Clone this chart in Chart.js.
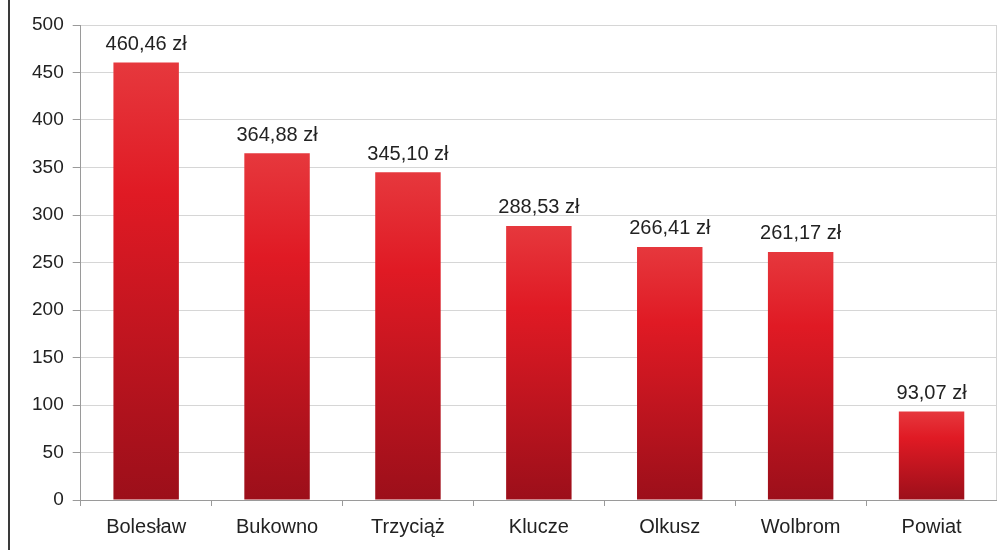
<!DOCTYPE html>
<html>
<head>
<meta charset="utf-8">
<script src="https://cdn.jsdelivr.net/npm/chart.js@4"></script>
<style>
    body { margin: 0; background: #fff; }
    #wrap { position: relative; width: 997px; height: 552px; }
    #frame { position: absolute; left: 8px; top: 0; width: 2px; height: 550px; background: #3a3a3a; }
    canvas { position: absolute; left: 0; top: 0; }
</style>
</head>
<body>
<div id="wrap">
    <canvas id="chart" width="997" height="552"></canvas>
    <div id="frame"></div>
</div>
<script>
const categories = ['Bolesław', 'Bukowno', 'Trzyciąż', 'Klucze', 'Olkusz', 'Wolbrom', 'Powiat'];
const values = [460.46, 364.88, 345.10, 288.53, 266.41, 261.17, 93.07];
const yTicks = [0, 50, 100, 150, 200, 250, 300, 350, 400, 450, 500];

function formatZl(v) {
    return v.toFixed(2).replace('.', ',') + ' zł';
}

function barGradient(context) {
    const chart = context.chart;
    const yScale = chart.scales.y;
    if (!yScale || context.raw === undefined) {
        return '#c8161f';
    }
    const top = yScale.getPixelForValue(context.raw);
    const bottom = yScale.getPixelForValue(0);
    if (!isFinite(top) || !isFinite(bottom) || top === bottom) {
        return '#c8161f';
    }
    const g = chart.ctx.createLinearGradient(0, top, 0, bottom);
    g.addColorStop(0, '#e6383d');
    g.addColorStop(0.3, '#e01a24');
    g.addColorStop(1, '#9c0f1a');
    return g;
}

const valueLabels = {
    id: 'valueLabels',
    afterDatasetsDraw(chart) {
        const ctx = chart.ctx;
        const meta = chart.getDatasetMeta(0);
        ctx.save();
        ctx.font = '20px "Liberation Sans", Arial, sans-serif';
        ctx.fillStyle = '#222';
        ctx.textAlign = 'center';
        ctx.textBaseline = 'middle';
        meta.data.forEach((bar, i) => {
            ctx.fillText(formatZl(values[i]), bar.x, bar.y - 18);
        });
        // light right edge of the plot area
        ctx.strokeStyle = '#d4d4d4';
        ctx.lineWidth = 1;
        ctx.beginPath();
        ctx.moveTo(chart.chartArea.right - 0.5, chart.chartArea.top);
        ctx.lineTo(chart.chartArea.right - 0.5, chart.chartArea.bottom);
        ctx.stroke();
        ctx.restore();
    }
};

const ctx = document.getElementById('chart').getContext('2d');
new Chart(ctx, {
    type: 'bar',
    data: {
        labels: categories,
        datasets: [{
            data: values,
            backgroundColor: barGradient,
            borderWidth: 0,
            categoryPercentage: 1,
            barPercentage: 0.5
        }]
    },
    options: {
        responsive: false,
        animation: false,
        layout: {
            padding: { top: 25, left: 23, right: 0, bottom: 4 }
        },
        scales: {
            x: {
                grid: {
                    display: true,
                    drawOnChartArea: false,
                    drawTicks: true,
                    tickLength: 6,
                    color: '#9a9a9a',
                    offset: true
                },
                border: { color: '#9a9a9a', width: 1 },
                ticks: {
                    color: '#222',
                    padding: 9,
                    font: { family: '"Liberation Sans", Arial, sans-serif', size: 20 }
                }
            },
            y: {
                min: 0,
                max: 500,
                afterBuildTicks(axis) {
                    axis.ticks = yTicks.map(v => ({ value: v }));
                },
                grid: {
                    color: '#d6d6d6',
                    tickLength: 8,
                    tickColor: '#9a9a9a'
                },
                border: { color: '#9a9a9a', width: 1 },
                ticks: {
                    color: '#222',
                    padding: 9,
                    font: { family: '"Liberation Sans", Arial, sans-serif', size: 19 }
                }
            }
        },
        plugins: {
            legend: { display: false },
            tooltip: { enabled: false }
        }
    },
    plugins: [valueLabels]
});
</script>
</body>
</html>
